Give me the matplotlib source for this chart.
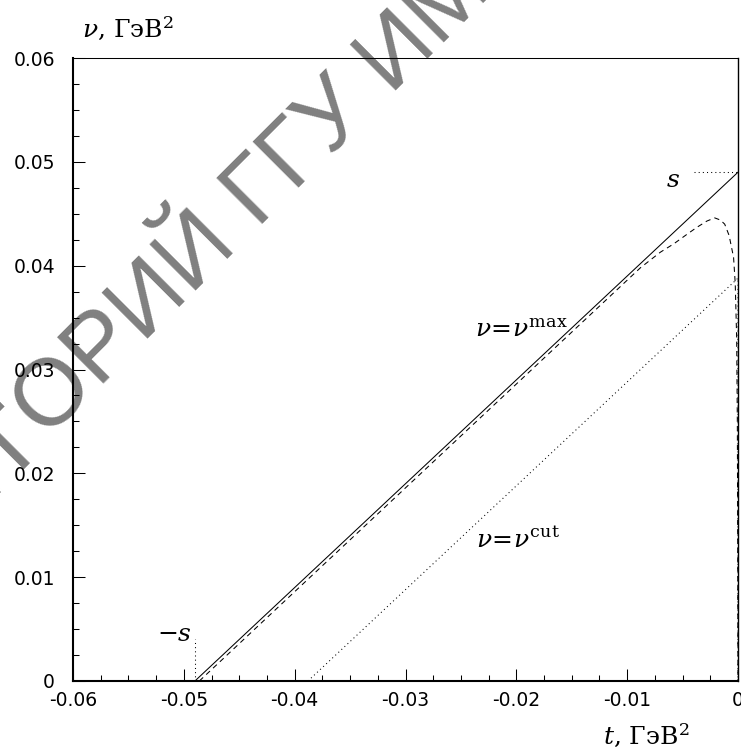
import matplotlib
matplotlib.use("Agg")

import matplotlib.pyplot as plt
from matplotlib.ticker import FixedLocator, MultipleLocator


# kinematic boundaries (GeV^2)
t_max = [-0.049, 0.0]
v_max = [0.0, 0.049]

t_cut = [-0.0388, 0.0, 0.0]
v_cut = [0.0, 0.0388, 0.0]

t_dash = [-0.0486, -0.040, -0.030, -0.020, -0.012, -0.0088, -0.0070,
          -0.0058, -0.0045, -0.0037, -0.0028, -0.0021, -0.0016, -0.0012,
          -0.0008, -0.0004, -0.00025, -0.00012, -0.00006, -0.00003, 0.0]
v_dash = [0.0, 0.0086, 0.0186, 0.0286, 0.0366, 0.0398, 0.0413,
          0.0421, 0.0431, 0.0437, 0.0443, 0.0446, 0.0444, 0.0440,
          0.0429, 0.0408, 0.0383, 0.0330, 0.0250, 0.0150, 0.0]

# marks for -s and s
t_minus_s = [-0.049, -0.049]
v_minus_s = [0.0, 0.004]
t_plus_s = [-0.004, 0.0]
v_plus_s = [0.049, 0.049]

x_ticks = [-0.06, -0.05, -0.04, -0.03, -0.02, -0.01, 0.0]
x_tick_labels = ["-0.06", "-0.05", "-0.04", "-0.03", "-0.02", "-0.01", "0"]
y_ticks = [0.0, 0.01, 0.02, 0.03, 0.04, 0.05, 0.06]
y_tick_labels = ["0", "0.01", "0.02", "0.03", "0.04", "0.05", "0.06"]


plt.rcParams["mathtext.fontset"] = "custom"
plt.rcParams["mathtext.rm"] = "DejaVu Serif"
plt.rcParams["mathtext.it"] = "DejaVu Serif:italic"

W, H = 741, 749
fig = plt.figure(figsize=(W / 100, H / 100), dpi=100)
ax = fig.add_axes([73 / W, 1 - 681 / H, (738 - 73) / W, (681 - 58) / H])

ax.set_xlim(-0.06, 0.0)
ax.set_ylim(0.0, 0.06)

ax.plot(t_max, v_max, color="black", linewidth=0.75, clip_on=False)
ax.plot(t_dash, v_dash, color="black", linewidth=0.75,
        linestyle=(0, (5, 4)), clip_on=False)
ax.plot(t_cut, v_cut, color="black", linewidth=0.75,
        linestyle=(0, (1, 3)), clip_on=False)
ax.plot(t_minus_s, v_minus_s, color="black", linewidth=0.75,
        linestyle=(0, (1, 3)), clip_on=False)
ax.plot(t_plus_s, v_plus_s, color="black", linewidth=0.75,
        linestyle=(0, (1, 3)), clip_on=False)

label_font = dict(fontsize=18, family="DejaVu Serif")
ax.text(-0.0237, 0.0331, r"$\nu\!=\!\nu^{\mathrm{max}}$", **label_font)
ax.text(-0.0236, 0.0129, r"$\nu\!=\!\nu^{\mathrm{cut}}$", **label_font)
ax.text(-0.0065, 0.0476, r"$s$", **label_font)
ax.text(-0.0524, 0.0039, r"$-s$", **label_font)

# frame and ticks
ax.spines["left"].set_linewidth(1.5)
ax.spines["bottom"].set_linewidth(1.5)
ax.spines["top"].set_linewidth(0.75)
ax.spines["right"].set_linewidth(1.0)

ax.xaxis.set_major_locator(FixedLocator(x_ticks))
ax.yaxis.set_major_locator(FixedLocator(y_ticks))
ax.set_xticklabels(x_tick_labels)
ax.set_yticklabels(y_tick_labels)
ax.xaxis.set_minor_locator(MultipleLocator(0.0025))
ax.yaxis.set_minor_locator(MultipleLocator(0.0025))

ax.tick_params(which="both", direction="in", top=False, right=False,
               width=0.75, labelsize=13.5)
ax.tick_params(which="major", length=8.5)
ax.tick_params(which="minor", length=4.5)
ax.tick_params(axis="x", pad=7)
ax.tick_params(axis="y", pad=13)
for lab in ax.get_xticklabels() + ax.get_yticklabels():
    lab.set_family("DejaVu Sans")

title_font = dict(fontsize=18, family="DejaVu Serif", va="baseline", ha="left")
fig.text(82 / W, 1 - 37 / H, r"$\nu$, ГэВ$^2$", **title_font)
fig.text(603 / W, 1 - 744 / H, r"$t$, ГэВ$^2$", **title_font)

# repository stamp across the page
stamp = dict(fontsize=68, family="Liberation Sans", color="black", alpha=0.5,
             rotation=45, rotation_mode="anchor", va="baseline")
fig.text(46 / W, 1 - 440 / H, "РЕПОЗИТ", ha="right", **stamp)
fig.text(46 / W, 1 - 440 / H, "ОРИЙ ГГУ ИМЕНИ Ф. СКОРИНЫ", ha="left", **stamp)

fig.savefig("out.png", dpi=100)
